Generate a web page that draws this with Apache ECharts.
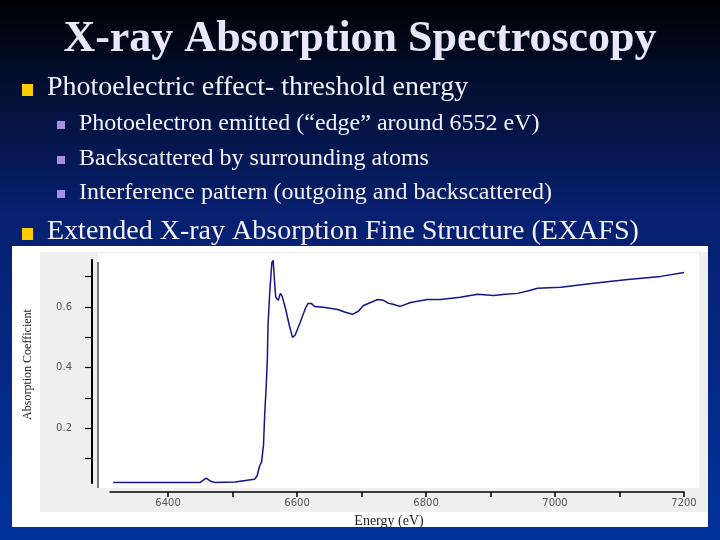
<!DOCTYPE html>
<html>
<head>
<meta charset="utf-8">
<script src="https://cdn.jsdelivr.net/npm/echarts@6/dist/echarts.min.js"></script>
<style>
html, body { margin: 0; padding: 0; background: #001a5c; }
#chart { width: 720px; height: 540px; }
</style>
</head>
<body>
<div id="chart"></div>
<script>
'use strict';

// spectrum (eV, absorption coefficient)
var energy = [6315, 6450, 6453, 6459, 6466, 6472, 6504, 6520, 6534, 6538,
    6542, 6545, 6548, 6550, 6552, 6554, 6555, 6558, 6561, 6563,
    6565, 6567, 6571, 6574, 6577, 6582, 6588, 6593, 6597, 6605,
    6613, 6617, 6622, 6627, 6641, 6663, 6675, 6686, 6695, 6703,
    6714, 6725, 6734, 6742, 6749, 6760, 6776, 6802, 6822, 6853,
    6880, 6905, 6923, 6942, 6962, 6973, 7009, 7060, 7113, 7164, 7200];
var absorption = [0.022, 0.022, 0.026, 0.036, 0.026, 0.022, 0.023, 0.028, 0.032, 0.043,
    0.076, 0.089, 0.145, 0.253, 0.33, 0.43, 0.54, 0.66, 0.747, 0.754,
    0.688, 0.632, 0.622, 0.645, 0.635, 0.596, 0.54, 0.50, 0.507, 0.55,
    0.596, 0.612, 0.612, 0.602, 0.599, 0.592, 0.583, 0.576, 0.586, 0.605,
    0.615, 0.625, 0.622, 0.612, 0.609, 0.602, 0.615, 0.625, 0.625, 0.632,
    0.642, 0.638, 0.642, 0.645, 0.655, 0.662, 0.665, 0.678, 0.691, 0.701, 0.714];

var xLabelValues = [6400, 6600, 6800, 7000, 7200];
var xTickValues = [6400, 6500, 6600, 6700, 6800, 6900, 7000, 7100, 7200];
var yLabelValues = [0.2, 0.4, 0.6];
var yTickValues = [0.1, 0.2, 0.3, 0.4, 0.5, 0.6, 0.7];

var slideTitle = 'X-ray Absorption Spectroscopy';
var mainBullets = ['Photoelectric effect- threshold energy',
    'Extended X-ray Absorption Fine Structure (EXAFS)'];
var subBullets = ['Photoelectron emitted (\u201cedge\u201d around 6552 eV)',
    'Backscattered by surrounding atoms',
    'Interference pattern (outgoing and backscattered)'];

var serif = '"Liberation Serif", "Times New Roman", serif';
var textColor = '#f2f2ff';

var graphics = [
    { type: 'rect', z: -100, silent: true, shape: { x: 0, y: 0, width: 720, height: 540 },
        style: { fill: { type: 'linear', x: 0, y: 0, x2: 0, y2: 1, colorStops: [
            { offset: 0, color: '#000000' },
            { offset: 0.12, color: '#020c28' },
            { offset: 0.4, color: '#072070' },
            { offset: 1, color: '#00339a' }] } } },
    // picture frame of the plot
    { type: 'rect', z: -50, silent: true, shape: { x: 12, y: 246, width: 696, height: 281 }, style: { fill: '#ffffff' } },
    { type: 'rect', z: -40, silent: true, shape: { x: 40, y: 252, width: 668, height: 260 }, style: { fill: '#efefef' } },
    { type: 'rect', z: -30, silent: true, shape: { x: 98, y: 253, width: 601, height: 235 }, style: { fill: '#ffffff' } },
    { type: 'line', z: -20, silent: true, shape: { x1: 98, y1: 262, x2: 98, y2: 488 }, style: { stroke: '#7a7a7a', lineWidth: 2 } },
    { type: 'text', x: 360, y: 40, style: { text: slideTitle, font: 'bold 44px ' + serif, fill: '#e8e8fa',
        textAlign: 'center', textVerticalAlign: 'middle' } }
];

var mainY = [88, 232];
mainBullets.forEach(function (t, i) {
    graphics.push({ type: 'rect', shape: { x: 22, y: mainY[i] - 4, width: 11, height: 12 }, style: { fill: '#ffcc00' } });
    graphics.push({ type: 'text', x: 47, y: mainY[i], style: { text: t, font: '28px ' + serif, fill: textColor,
        textAlign: 'left', textVerticalAlign: 'middle' } });
});
var subY = [124, 159, 193];
subBullets.forEach(function (t, i) {
    graphics.push({ type: 'rect', shape: { x: 57, y: subY[i] - 3, width: 8, height: 8 }, style: { fill: '#a48fe2' } });
    graphics.push({ type: 'text', x: 79, y: subY[i], style: { text: t, font: '24px ' + serif, fill: textColor,
        textAlign: 'left', textVerticalAlign: 'middle' } });
});

var chart = echarts.init(document.getElementById('chart'));
chart.setOption({
    backgroundColor: 'transparent',
    animation: false,
    graphic: { elements: graphics },
    grid: { left: 110, right: 36, top: 260, bottom: 57 },
    xAxis: {
        type: 'value', min: 6310, max: 7200, offset: 9,
        name: 'Energy (eV)', nameLocation: 'middle', nameGap: 22,
        nameTextStyle: { fontFamily: serif, fontSize: 14, color: '#222', padding: [0, 16, 0, 0] },
        axisLine: { lineStyle: { color: '#000', width: 1.5 } },
        axisTick: { customValues: xTickValues, length: 5, lineStyle: { color: '#000', width: 1.5 } },
        axisLabel: { customValues: xLabelValues, margin: 6, fontFamily: 'DejaVu Sans', fontSize: 10, color: '#555',
            formatter: function (v) { return String(v); } },
        splitLine: { show: false }
    },
    yAxis: {
        type: 'value', min: 0.02, max: 0.755, offset: 18,
        name: 'Absorption Coefficient', nameLocation: 'middle', nameGap: 58, nameRotate: 90,
        nameTextStyle: { fontFamily: serif, fontSize: 12, color: '#222', padding: [0, 0, 0, 14] },
        axisLine: { show: true, lineStyle: { color: '#000', width: 2 } },
        axisTick: { show: true, customValues: yTickValues, length: 7, lineStyle: { color: '#000', width: 1.2 } },
        axisLabel: { customValues: yLabelValues, margin: 20, fontFamily: 'DejaVu Sans', fontSize: 10, color: '#555',
            formatter: function (v) { return v.toFixed(1); } },
        splitLine: { show: false }
    },
    series: [{
        type: 'line',
        data: energy.map(function (e, i) { return [e, absorption[i]]; }),
        showSymbol: false,
        lineStyle: { color: '#14148c', width: 1.5 }
    }]
});
</script>
</body>
</html>
